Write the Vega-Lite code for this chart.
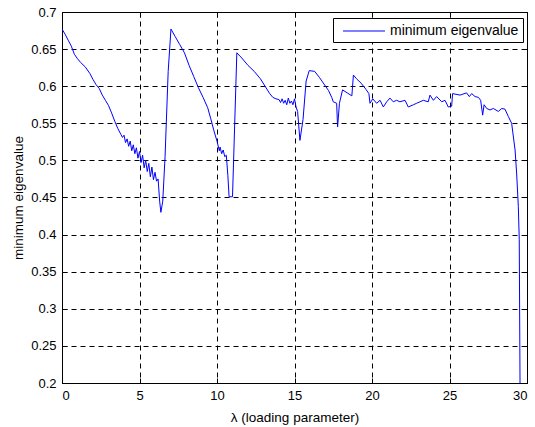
{
  "$schema": "https://vega.github.io/schema/vega-lite/v6.json",
  "width": 465,
  "height": 371,
  "autosize": {"type": "none"},
  "padding": {"left": 62, "top": 12, "right": 8, "bottom": 44},
  "background": "white",
  "config": {
    "view": {"stroke": "black", "strokeWidth": 1},
    "font": "Liberation Sans",
    "axis": {
      "labelFont": "Liberation Sans",
      "titleFont": "Liberation Sans",
      "labelFontSize": 13,
      "titleFontSize": 13.5,
      "titleFontWeight": "normal",
      "labelColor": "black",
      "titleColor": "black",
      "domainColor": "black",
      "tickColor": "black",
      "tickSize": -5,
      "gridColor": "black",
      "gridOpacity": 1,
      "gridDash": [5, 4],
      "gridWidth": 1
    }
  },
  "data": {
    "values": [
      {"x": 0, "y": 0.677}, {"x": 0.2, "y": 0.670}, {"x": 0.4, "y": 0.662}, {"x": 0.6, "y": 0.654},
      {"x": 0.8, "y": 0.643}, {"x": 1.0, "y": 0.637}, {"x": 1.2, "y": 0.632}, {"x": 1.5, "y": 0.626},
      {"x": 1.8, "y": 0.617}, {"x": 2.0, "y": 0.609}, {"x": 2.2, "y": 0.602}, {"x": 2.4, "y": 0.597},
      {"x": 2.6, "y": 0.588}, {"x": 2.8, "y": 0.581}, {"x": 3.0, "y": 0.574}, {"x": 3.2, "y": 0.564},
      {"x": 3.4, "y": 0.553}, {"x": 3.6, "y": 0.543}, {"x": 3.8, "y": 0.535}, {"x": 3.9, "y": 0.531},
      {"x": 4.0, "y": 0.534}, {"x": 4.1, "y": 0.524}, {"x": 4.2, "y": 0.529}, {"x": 4.3, "y": 0.519},
      {"x": 4.4, "y": 0.526}, {"x": 4.5, "y": 0.513}, {"x": 4.6, "y": 0.521}, {"x": 4.7, "y": 0.509},
      {"x": 4.8, "y": 0.517}, {"x": 4.9, "y": 0.503}, {"x": 5.0, "y": 0.512}, {"x": 5.1, "y": 0.497},
      {"x": 5.2, "y": 0.507}, {"x": 5.3, "y": 0.490}, {"x": 5.4, "y": 0.500}, {"x": 5.5, "y": 0.485},
      {"x": 5.6, "y": 0.496}, {"x": 5.7, "y": 0.478}, {"x": 5.8, "y": 0.491}, {"x": 5.9, "y": 0.474},
      {"x": 6.0, "y": 0.484}, {"x": 6.1, "y": 0.472}, {"x": 6.2, "y": 0.475}, {"x": 6.3, "y": 0.445},
      {"x": 6.38, "y": 0.430}, {"x": 6.5, "y": 0.445}, {"x": 6.65, "y": 0.505}, {"x": 6.85, "y": 0.620},
      {"x": 7.03, "y": 0.677},
      {"x": 7.3, "y": 0.667}, {"x": 7.6, "y": 0.656}, {"x": 7.9, "y": 0.645}, {"x": 8.2, "y": 0.628},
      {"x": 8.5, "y": 0.613}, {"x": 8.8, "y": 0.598}, {"x": 9.1, "y": 0.585}, {"x": 9.4, "y": 0.571},
      {"x": 9.6, "y": 0.556}, {"x": 9.8, "y": 0.540}, {"x": 10.0, "y": 0.526}, {"x": 10.15, "y": 0.513},
      {"x": 10.2, "y": 0.518}, {"x": 10.3, "y": 0.509}, {"x": 10.4, "y": 0.514}, {"x": 10.5, "y": 0.505},
      {"x": 10.6, "y": 0.507}, {"x": 10.7, "y": 0.480}, {"x": 10.78, "y": 0.451}, {"x": 11.0, "y": 0.451},
      {"x": 11.28, "y": 0.645},
      {"x": 11.6, "y": 0.638}, {"x": 12.0, "y": 0.628}, {"x": 12.4, "y": 0.620}, {"x": 12.8, "y": 0.610},
      {"x": 13.1, "y": 0.600}, {"x": 13.4, "y": 0.590}, {"x": 13.6, "y": 0.585}, {"x": 13.8, "y": 0.583},
      {"x": 14.0, "y": 0.582}, {"x": 14.1, "y": 0.578}, {"x": 14.2, "y": 0.583}, {"x": 14.3, "y": 0.577},
      {"x": 14.4, "y": 0.581}, {"x": 14.5, "y": 0.575}, {"x": 14.6, "y": 0.584}, {"x": 14.7, "y": 0.577},
      {"x": 14.8, "y": 0.580}, {"x": 14.9, "y": 0.575}, {"x": 15.0, "y": 0.583}, {"x": 15.1, "y": 0.572},
      {"x": 15.2, "y": 0.566}, {"x": 15.35, "y": 0.527}, {"x": 15.55, "y": 0.555}, {"x": 15.75, "y": 0.607},
      {"x": 15.95, "y": 0.621}, {"x": 16.3, "y": 0.620}, {"x": 16.6, "y": 0.612}, {"x": 16.9, "y": 0.603},
      {"x": 17.2, "y": 0.594}, {"x": 17.4, "y": 0.585}, {"x": 17.5, "y": 0.579}, {"x": 17.72, "y": 0.577},
      {"x": 17.78, "y": 0.545}, {"x": 17.9, "y": 0.577}, {"x": 18.1, "y": 0.595}, {"x": 18.4, "y": 0.591},
      {"x": 18.7, "y": 0.587}, {"x": 18.8, "y": 0.615}, {"x": 19.0, "y": 0.610}, {"x": 19.3, "y": 0.604},
      {"x": 19.6, "y": 0.596}, {"x": 19.8, "y": 0.590}, {"x": 19.87, "y": 0.577}, {"x": 20.05, "y": 0.583},
      {"x": 20.3, "y": 0.577}, {"x": 20.52, "y": 0.581}, {"x": 20.73, "y": 0.572}, {"x": 20.95, "y": 0.579},
      {"x": 21.16, "y": 0.584}, {"x": 21.37, "y": 0.579}, {"x": 21.59, "y": 0.581}, {"x": 21.8, "y": 0.579},
      {"x": 22.13, "y": 0.581}, {"x": 22.34, "y": 0.572}, {"x": 22.67, "y": 0.575}, {"x": 22.88, "y": 0.577},
      {"x": 23.1, "y": 0.579}, {"x": 23.31, "y": 0.581}, {"x": 23.63, "y": 0.579}, {"x": 23.74, "y": 0.588},
      {"x": 23.96, "y": 0.581}, {"x": 24.17, "y": 0.586}, {"x": 24.5, "y": 0.579}, {"x": 24.71, "y": 0.581},
      {"x": 24.92, "y": 0.572}, {"x": 25.14, "y": 0.573}, {"x": 25.2, "y": 0.590}, {"x": 25.68, "y": 0.588},
      {"x": 26.1, "y": 0.591}, {"x": 26.28, "y": 0.586}, {"x": 26.43, "y": 0.590}, {"x": 26.65, "y": 0.586},
      {"x": 26.86, "y": 0.585}, {"x": 27.01, "y": 0.581}, {"x": 27.14, "y": 0.561}, {"x": 27.23, "y": 0.575},
      {"x": 27.4, "y": 0.570}, {"x": 27.61, "y": 0.568}, {"x": 27.83, "y": 0.570}, {"x": 28.15, "y": 0.566},
      {"x": 28.37, "y": 0.570}, {"x": 28.58, "y": 0.569}, {"x": 28.8, "y": 0.559}, {"x": 29.01, "y": 0.550},
      {"x": 29.23, "y": 0.514}, {"x": 29.33, "y": 0.483}, {"x": 29.44, "y": 0.438}, {"x": 29.5, "y": 0.393},
      {"x": 29.55, "y": 0.2}
    ]
  },
  "transform": [{"calculate": "'minimum eigenvalue'", "as": "series"}],
  "layer": [
    {
      "mark": {"type": "line", "strokeWidth": 1, "clip": true},
      "encoding": {
        "x": {
          "field": "x", "type": "quantitative",
          "scale": {"domain": [0, 30], "nice": false, "zero": false},
          "axis": {"orient": "bottom", "values": [0, 5, 10, 15, 20, 25, 30], "format": "d",
                   "title": "λ (loading parameter)", "grid": true, "labelPadding": 11, "titlePadding": 8}
        },
        "y": {
          "field": "y", "type": "quantitative",
          "scale": {"domain": [0.2, 0.7], "nice": false, "zero": false},
          "axis": {"orient": "left", "values": [0.2, 0.25, 0.3, 0.35, 0.4, 0.45, 0.5, 0.55, 0.6, 0.65, 0.7],
                   "format": ".2~f",
                   "title": "minimum eigenvalue", "grid": true, "labelPadding": 11, "titlePadding": 5}
        },
        "color": {
          "field": "series", "type": "nominal",
          "scale": {"range": ["#0000ff"]},
          "legend": {
            "title": null, "orient": "none", "legendX": 271, "legendY": 6,
            "strokeColor": "black", "fillColor": "white", "padding": 4,
            "symbolType": "M-2.33,-0.056H2.33V0.056H-2.33Z", "symbolSize": 324, "symbolStrokeWidth": 0,
            "symbolOffset": 18, "symbolFillColor": "#0000ff",
            "labelFont": "Liberation Sans", "labelFontSize": 14, "labelColor": "black",
            "labelOffset": 17, "cornerRadius": 0,
            "encode": {"symbols": {"enter": {"fill": {"value": "#0000ff"}, "stroke": {"value": "transparent"}, "strokeWidth": {"value": 0}}, "update": {"fill": {"value": "#0000ff"}, "stroke": {"value": "transparent"}, "strokeWidth": {"value": 0}, "opacity": {"value": 1}}}}
          }
        }
      }
    },
    {
      "mark": {"type": "line", "strokeOpacity": 0},
      "encoding": {
        "x": {"field": "x", "type": "quantitative", "axis": {"orient": "top", "values": [0, 5, 10, 15, 20, 25, 30], "labels": false, "title": null, "grid": false}},
        "y": {"field": "y", "type": "quantitative", "axis": {"orient": "right", "values": [0.2, 0.25, 0.3, 0.35, 0.4, 0.45, 0.5, 0.55, 0.6, 0.65, 0.7], "labels": false, "title": null, "grid": false}}
      }
    }
  ],
  "resolve": {"axis": {"x": "independent", "y": "independent"}}
}
